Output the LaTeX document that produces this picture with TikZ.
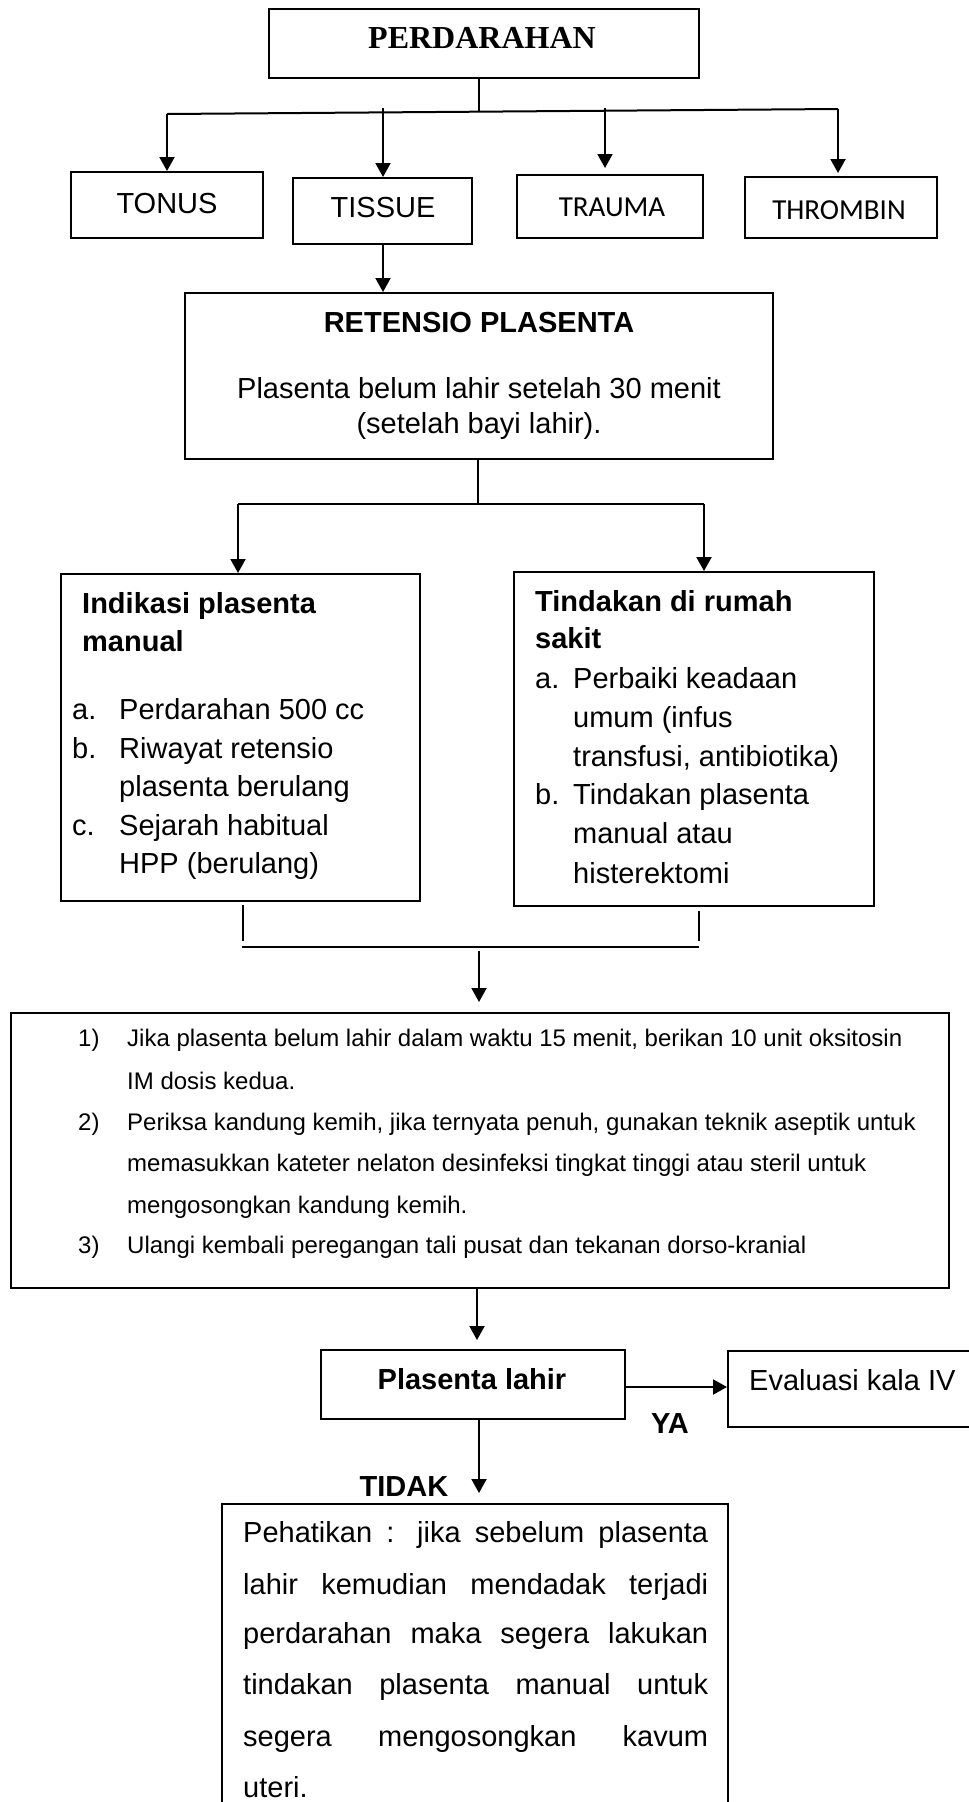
\documentclass[tikz,border=0pt]{standalone}
\usepackage{fontspec}
\setmainfont{Liberation Sans}
\newfontfamily\timesf{Liberation Serif}
\newfontfamily\calibf{Carlito}
\usetikzlibrary{arrows.meta}
\newcommand\fsz[1]{\fontsize{#1}{#1}\selectfont}
\begin{document}
\begin{tikzpicture}[x=1pt,y=-1pt,
  box/.style={draw,line width=2pt,inner sep=0pt},
  arr/.style={line width=2pt,-{Triangle[length=14pt,width=15pt]}},
  ln/.style={line width=2pt},
  txt/.style={inner sep=0pt,anchor=base west,font=\fsz{29}},
  btxt/.style={inner sep=0pt,anchor=base west,font=\bfseries\fsz{29}},
  stxt/.style={inner sep=0pt,anchor=base west,font=\fsz{24}},
  ctxt/.style={inner sep=0pt,anchor=base,font=\fsz{29}},
  cbtxt/.style={inner sep=0pt,anchor=base,font=\bfseries\fsz{29}}
]
\useasboundingbox (0,0) rectangle (969,1802);
\fill[white] (0,0) rectangle (969,1802);
\begin{scope}
\clip (0,0) rectangle (969,1802);

% top
\node[box,minimum width=430pt,minimum height=69pt] (perd) at (484,43.5) {};
\node[inner sep=0pt,anchor=base,font=\timesf\bfseries\fsz{32}] (perdt) at (482,48.5) {PERDARAHAN};

\node[box,minimum width=192pt,minimum height=66pt] (tonus) at (167,205) {};
\node[ctxt] (tonust) at (167,213) {TONUS};
\node[box,minimum width=179pt,minimum height=66pt] (tissue) at (382.5,211) {};
\node[ctxt] (tissuet) at (383,217.5) {TISSUE};
\node[box,minimum width=186pt,minimum height=63pt] (trauma) at (610,206.5) {};
\node[ctxt,font=\calibf\fsz{29}] (traumat) at (612,216) {TRAUMA};
\node[box,minimum width=192pt,minimum height=61pt] (thrombin) at (841,207.5) {};
\node[ctxt,font=\calibf\fsz{29}] (thrombint) at (839,219) {THROMBIN};

\coordinate (bL) at (167,114);
\coordinate (bR) at (838,109);
\coordinate (bM) at (479,111.7);
\coordinate (b2) at (383,108);
\coordinate (b3) at (605,108);
\draw[ln] (perd.south -| bM) -- (bM);
\draw[ln] (bL) -- (bR);
\draw[arr] (bL) -- (tonus.north);
\draw[arr] (b2) -- (b2 |- tissue.north);
\draw[arr,shorten >=6pt] (b3) -- (b3 |- trauma.north);
\draw[arr,shorten >=3pt] (bR) -- (bR |- thrombin.north);

% retensio
\node[box,minimum width=588pt,minimum height=166pt] (ret) at (479,376) {};
\node[cbtxt] (rett) at (479,332.5) {RETENSIO PLASENTA};
\node[ctxt] (ret1) at (479,398.5) {Plasenta belum lahir setelah 30 menit};
\node[ctxt] (ret2) at (479,433.5) {(setelah bayi lahir).};
\coordinate (t1) at (383,244);
\draw[arr] (tissue.south -| t1) -- (t1 |- ret.north);

\coordinate (c0) at (478,504);
\coordinate (c1) at (238,504);
\coordinate (c2) at (704,504);
\draw[ln] (ret.south -| c0) -- (c0);
\draw[ln] (c1) -- (c2);

% two boxes
\node[box,minimum width=359pt,minimum height=327pt] (lbox) at (240.5,737.5) {};
\node[box,minimum width=360pt,minimum height=334pt] (rbox) at (694,739) {};
\draw[arr] (c1) -- (c1 |- lbox.north);
\draw[arr] (c2) -- (c2 |- rbox.north);

\node[btxt] (l1) at (82,613.5) {Indikasi plasenta};
\node[btxt] (l2) at (82,651.5) {manual};
\node[txt] (la) at (72,719.5) {a.};
\node[txt] (l3) at (119,719.5) {Perdarahan 500 cc};
\node[txt] (lb) at (72,758.5) {b.};
\node[txt] (l4) at (119,758.5) {Riwayat retensio};
\node[txt] (l5) at (119,796.5) {plasenta berulang};
\node[txt] (lc) at (72,835.5) {c.};
\node[txt] (l6) at (119,835.5) {Sejarah habitual};
\node[txt] (l7) at (119,873.5) {HPP (berulang)};

\node[btxt] (r1) at (535,611.5) {Tindakan di rumah};
\node[btxt] (r2) at (535,648.5) {sakit};
\node[txt] (ra) at (535,688.5) {a.};
\node[txt] (r3) at (573,688.5) {Perbaiki keadaan};
\node[txt] (r4) at (573,727.5) {umum (infus};
\node[txt] (r5) at (573,766.5) {transfusi, antibiotika)};
\node[txt] (rb) at (535,804.5) {b.};
\node[txt] (r6) at (573,804.5) {Tindakan plasenta};
\node[txt] (r7) at (573,843.5) {manual atau};
\node[txt] (r8) at (573,883.5) {histerektomi};

% join
\coordinate (j1) at (243,905);
\coordinate (j2) at (243,941);
\coordinate (j3) at (699,911);
\coordinate (j4) at (699,941);
\coordinate (j5) at (242,947);
\coordinate (j6) at (699,947);
\coordinate (j7) at (479,951);
\coordinate (j8) at (479,1002);
\draw[ln] (j1) -- (j2);
\draw[ln] (j3) -- (j4);
\draw[ln] (j5) -- (j6);
\draw[arr] (j7) -- (j8);

% big box
\node[box,minimum width=938.5pt,minimum height=275pt] (big) at (479.75,1150.5) {};
\node[stxt] (n1) at (78,1046.6) {1)};
\node[stxt] (s1) at (127,1046.6) {Jika plasenta belum lahir dalam waktu 15 menit, berikan 10 unit oksitosin};
\node[stxt] (s2) at (127,1089.6) {IM dosis kedua.};
\node[stxt] (n2) at (78,1130.6) {2)};
\node[stxt] (s3) at (127,1130.6) {Periksa kandung kemih, jika ternyata penuh, gunakan teknik aseptik untuk};
\node[stxt] (s4) at (127,1171.6) {memasukkan kateter nelaton desinfeksi tingkat tinggi atau steril untuk};
\node[stxt] (s5) at (127,1213.6) {mengosongkan kandung kemih.};
\node[stxt] (n3) at (78,1253.6) {3)};
\node[stxt] (s6) at (127,1253.6) {Ulangi kembali peregangan tali pusat dan tekanan dorso-kranial};

% plasenta lahir
\node[box,minimum width=304pt,minimum height=69pt] (pl) at (473,1384.5) {};
\node[cbtxt] (plt) at (472,1389.5) {Plasenta lahir};
\coordinate (k1) at (477,1340);
\draw[arr] (big.south -| k1) -- (k1);

\node[box,minimum width=272pt,minimum height=76pt] (ev) at (864,1389) {};
\node[txt] (evt) at (749,1390.5) {Evaluasi kala IV};
\coordinate (k2) at (625,1387);
\draw[arr] (k2) -- (k2 -| ev.west);
\node[cbtxt] (ya) at (670,1433.5) {YA};

\coordinate (k3) at (479,1493);
\draw[arr] (pl.south -| k3) -- (k3);
\node[cbtxt] (tidak) at (404,1496.5) {TIDAK};

% bottom box
\node[box,minimum width=506pt,minimum height=346pt] (bot) at (475,1677) {};
\node[txt] (p1) at (243,1542.5) {\makebox[465pt][s]{Pehatikan : jika sebelum plasenta}};
\node[txt] (p2) at (243,1594.5) {\makebox[465pt][s]{lahir kemudian mendadak terjadi}};
\node[txt] (p3) at (243,1643.5) {\makebox[465pt][s]{perdarahan maka segera lakukan}};
\node[txt] (p4) at (243,1694.5) {\makebox[465pt][s]{tindakan plasenta manual untuk}};
\node[txt] (p5) at (243,1746.5) {\makebox[465pt][s]{segera mengosongkan kavum}};
\node[txt] (p6) at (243,1797.5) {uteri.};
\end{scope}
\end{tikzpicture}
\end{document}
